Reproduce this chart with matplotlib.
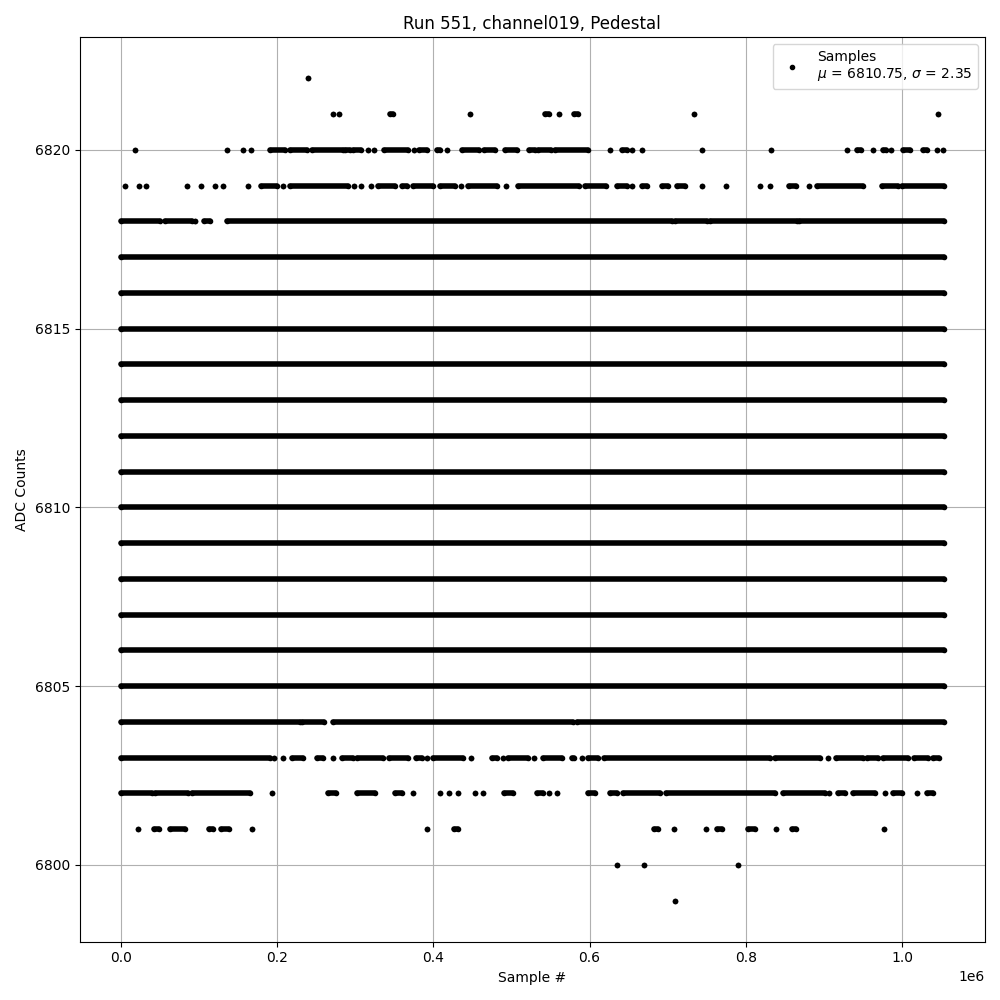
import matplotlib
matplotlib.use("Agg")
import matplotlib.pyplot as plt
from matplotlib.lines import Line2D

# sample positions in units of 1e6 samples; (start, end) runs of samples at each ADC level,
# a run with start == end is a single isolated sample
N_END = 1.0535
FULL = [(0.0, N_END)]

LEVEL_RUNS = {
    6822: [(0.2398, 0.2398)],
    6821: [(0.271, 0.271), (0.2787, 0.2787), (0.3444, 0.348), (0.4469, 0.4469),
           (0.543, 0.548), (0.5612, 0.5612), (0.5804, 0.5855), (0.7337, 0.7337),
           (1.0465, 1.0465)],
    6820: [(0.0184, 0.0184), (0.136, 0.136), (0.1567, 0.1567), (0.1669, 0.1669),
           (0.1916, 0.210), (0.2164, 0.2377), (0.2441, 0.2847), (0.2868, 0.2932),
           (0.2975, 0.3069), (0.3167, 0.3167), (0.324, 0.324), (0.3367, 0.3679),
           (0.3752, 0.3752), (0.382, 0.3914), (0.4042, 0.4085), (0.4178, 0.4178),
           (0.4362, 0.4588), (0.4648, 0.4789), (0.4917, 0.5075), (0.5228, 0.530),
           (0.534, 0.551), (0.5557, 0.598), (0.6261, 0.6261), (0.641, 0.6475),
           (0.6547, 0.6547), (0.6675, 0.6675), (0.7443, 0.7443), (0.8323, 0.8323),
           (0.930, 0.930), (0.942, 0.9475), (0.9633, 0.9633), (0.9752, 0.9795),
           (0.9859, 0.9859), (1.0008, 1.0102), (1.0265, 1.0324), (1.0444, 1.0444),
           (1.0529, 1.0529)],
    6819: [(0.0051, 0.0051), (0.0235, 0.0235), (0.032, 0.032), (0.0849, 0.0849),
           (0.1029, 0.1029), (0.1208, 0.1208), (0.1302, 0.1302), (0.163, 0.163),
           (0.1789, 0.1993), (0.2078, 0.2078), (0.2164, 0.291), (0.2988, 0.2988),
           (0.3073, 0.3073), (0.3197, 0.3197), (0.3295, 0.3508), (0.3594, 0.3658),
           (0.3743, 0.400), (0.4085, 0.4277), (0.435, 0.435), (0.4447, 0.481),
           (0.4925, 0.4925), (0.5087, 0.5868), (0.5941, 0.621), (0.6355, 0.6475),
           (0.6539, 0.6539), (0.6667, 0.6731), (0.6923, 0.7008), (0.7115, 0.7222),
           (0.7435, 0.7435), (0.7742, 0.7742), (0.8182, 0.8182), (0.831, 0.831),
           (0.8557, 0.8639), (0.8813, 0.8813), (0.8916, 0.9505), (0.974, 0.9953),
           (0.9996, N_END)],
    6818: [(0.0, 0.0508), (0.0563, 0.0905), (0.0956, 0.0956), (0.1063, 0.114),
           (0.136, 0.705), (0.709, 0.750), (0.754, 0.865), (0.868, N_END)],
    6817: FULL, 6816: FULL, 6815: FULL, 6814: FULL, 6813: FULL, 6812: FULL,
    6811: FULL, 6810: FULL, 6809: FULL, 6808: FULL, 6807: FULL, 6806: FULL,
    6805: FULL,
    6804: [(0.0, 0.229), (0.2313, 0.260), (0.272, 0.579), (0.5835, N_END)],
    6803: [(0.0, 0.1908), (0.1963, 0.1963), (0.2078, 0.2078), (0.2185, 0.2334),
           (0.2506, 0.259), (0.2719, 0.2719), (0.2834, 0.2975), (0.3026, 0.3358),
           (0.3436, 0.367), (0.3777, 0.385), (0.3914, 0.3914), (0.3991, 0.4383),
           (0.4481, 0.4481), (0.4746, 0.481), (0.4895, 0.4895), (0.4959, 0.5215),
           (0.5288, 0.5288), (0.540, 0.5643), (0.577, 0.580), (0.5899, 0.5899),
           (0.5984, 0.6112), (0.6184, 0.831), (0.8374, 0.895), (0.9048, 0.9048),
           (0.9155, 0.9505), (0.9548, 0.9697), (0.976, 1.008), (1.0154, 1.0337),
           (1.040, 1.0478)],
    6802: [(0.0, 0.0393), (0.0444, 0.0854), (0.0905, 0.1652), (0.193, 0.193),
           (0.2655, 0.2753), (0.3026, 0.3252), (0.3508, 0.3602), (0.3743, 0.3743),
           (0.4085, 0.4085), (0.4204, 0.4204), (0.4319, 0.4319), (0.4533, 0.4533),
           (0.4639, 0.4639), (0.4904, 0.5024), (0.533, 0.540), (0.5484, 0.5484),
           (0.5587, 0.5587), (0.5984, 0.6069), (0.6261, 0.6355), (0.6432, 0.6901),
           (0.6978, 0.8374), (0.848, 0.9014), (0.907, 0.907), (0.9177, 0.927),
           (0.9368, 0.9654), (0.9782, 0.9782), (0.9889, 0.9996), (1.0188, 1.0188),
           (1.0316, 1.040)],
    6801: [(0.0222, 0.0222), (0.0427, 0.049), (0.0627, 0.0819), (0.1131, 0.1182),
           (0.128, 0.1387), (0.1673, 0.1673), (0.3922, 0.3922), (0.4268, 0.4319),
           (0.6825, 0.6872), (0.7085, 0.7085), (0.7486, 0.7486), (0.7627, 0.7691),
           (0.8032, 0.8118), (0.8383, 0.8383), (0.8587, 0.8639), (0.9773, 0.9773)],
    6800: [(0.6347, 0.6347), (0.670, 0.670), (0.7904, 0.7904)],
    6799: [(0.7097, 0.7097)],
}

MU = 6810.75
SIGMA = 2.35

fig, ax = plt.subplots(figsize=(10, 10), dpi=100)

for level, runs in LEVEL_RUNS.items():
    for a, b in runs:
        ax.plot([a * 1e6, b * 1e6], [level, level], color="k", marker=".",
                lw=4, solid_capstyle="round", zorder=2)

handle = Line2D([], [], color="k", marker=".", linestyle="None",
                label=f"Samples\n$\\mu$ = {MU:.2f}, $\\sigma$ = {SIGMA:.2f}")
ax.legend(handles=[handle], loc="upper right")

ax.set_title("Run 551, channel019, Pedestal")
ax.set_xlabel("Sample #")
ax.set_ylabel("ADC Counts")
ax.grid(True)
ax.set_axisbelow(True)

plt.tight_layout()
fig.savefig("out.png", dpi=100)
plt.close(fig)
